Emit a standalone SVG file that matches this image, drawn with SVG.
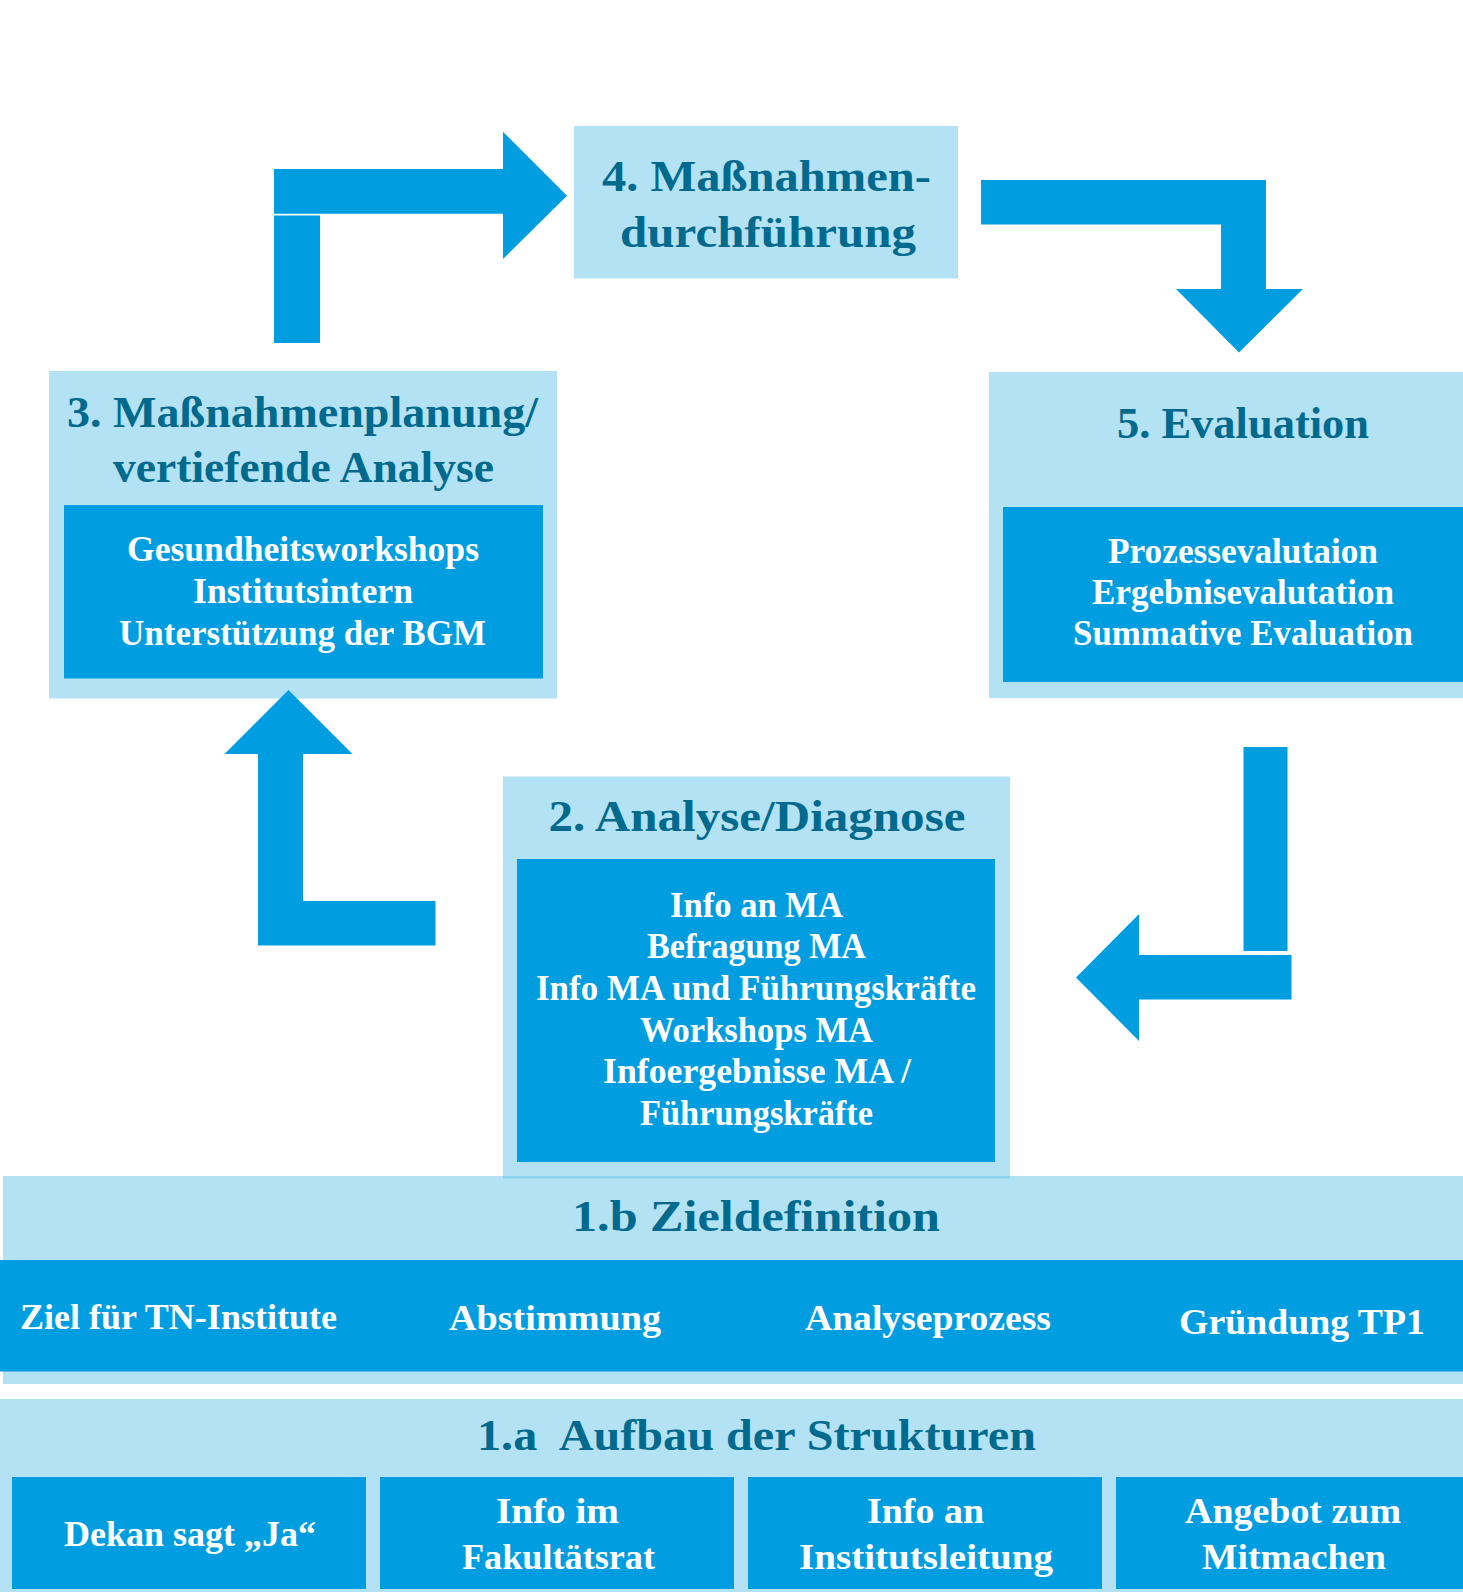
<svg xmlns="http://www.w3.org/2000/svg" width="1463" height="1592" viewBox="0 0 1463 1592">
<style>
.lt{fill:#B3E2F4}
.md{fill:#009EE0}
.ttl{font-family:"Liberation Serif","DejaVu Serif",serif;font-weight:bold;font-size:45px;fill:#006A8E;text-anchor:middle;white-space:pre}
.txt{font-family:"Liberation Serif","DejaVu Serif",serif;font-weight:bold;font-size:35px;fill:#FFFFFF;text-anchor:middle}
</style>
<rect width="1463" height="1592" fill="#FFFFFF"/>

<g id="node-4">
<rect class="lt" x="574" y="126" width="384" height="152.5"/>
<text class="ttl" x="766.5" y="190.5" textLength="329" lengthAdjust="spacingAndGlyphs">4. Maßnahmen-</text>
<text class="ttl" x="768" y="246.5" textLength="296" lengthAdjust="spacingAndGlyphs">durchführung</text>
</g>

<g id="node-3">
<rect class="lt" x="49" y="371" width="508" height="327.5"/>
<rect class="md" x="64" y="505" width="479" height="173.5"/>
<text class="ttl" x="302.5" y="427" textLength="471" lengthAdjust="spacingAndGlyphs">3. Maßnahmenplanung/</text>
<text class="ttl" x="303.5" y="481.5" textLength="381" lengthAdjust="spacingAndGlyphs">vertiefende Analyse</text>
<text class="txt" x="303" y="561" textLength="352" lengthAdjust="spacingAndGlyphs">Gesundheitsworkshops</text>
<text class="txt" x="303" y="603" textLength="220" lengthAdjust="spacingAndGlyphs">Institutsintern</text>
<text class="txt" x="302.5" y="644.5" textLength="367" lengthAdjust="spacingAndGlyphs">Unterstützung der BGM</text>
</g>

<g id="node-5">
<rect class="lt" x="989" y="372" width="474" height="326"/>
<rect class="md" x="1003" y="507" width="460" height="175"/>
<text class="ttl" x="1243" y="438" textLength="252" lengthAdjust="spacingAndGlyphs">5. Evaluation</text>
<text class="txt" x="1243" y="562.5" textLength="270" lengthAdjust="spacingAndGlyphs">Prozessevalutaion</text>
<text class="txt" x="1243" y="603.5" textLength="302" lengthAdjust="spacingAndGlyphs">Ergebnisevalutation</text>
<text class="txt" x="1243" y="644.5" textLength="340" lengthAdjust="spacingAndGlyphs">Summative Evaluation</text>
</g>

<g id="node-2">
<rect class="lt" x="503" y="776.5" width="507" height="401.5"/>
<rect class="md" x="517" y="859" width="478" height="303"/>
<text class="ttl" x="757" y="831" textLength="417" lengthAdjust="spacingAndGlyphs">2. Analyse/Diagnose</text>
<text class="txt" x="756.5" y="916.5" textLength="173" lengthAdjust="spacingAndGlyphs">Info an MA</text>
<text class="txt" x="756.5" y="958" textLength="219" lengthAdjust="spacingAndGlyphs">Befragung MA</text>
<text class="txt" x="756" y="1000" textLength="440" lengthAdjust="spacingAndGlyphs">Info MA und Führungskräfte</text>
<text class="txt" x="756.5" y="1041.5" textLength="233" lengthAdjust="spacingAndGlyphs">Workshops MA</text>
<text class="txt" x="757" y="1083" textLength="308" lengthAdjust="spacingAndGlyphs">Infoergebnisse MA /</text>
<text class="txt" x="756.5" y="1125" textLength="233" lengthAdjust="spacingAndGlyphs">Führungskräfte</text>
</g>

<g id="node-1b">
<rect class="lt" x="3" y="1176" width="1460" height="208"/>
<rect x="503" y="1176" width="507" height="2.5" fill="#8AD2F0"/>
<rect class="md" x="0" y="1260" width="1463" height="111.5"/>
<text class="ttl" x="756" y="1230.5" textLength="368" lengthAdjust="spacingAndGlyphs">1.b Zieldefinition</text>
<text class="txt" x="178.5" y="1329" textLength="317" lengthAdjust="spacingAndGlyphs">Ziel für TN-Institute</text>
<text class="txt" x="555" y="1330" textLength="212" lengthAdjust="spacingAndGlyphs">Abstimmung</text>
<text class="txt" x="928" y="1330" textLength="246" lengthAdjust="spacingAndGlyphs">Analyseprozess</text>
<text class="txt" x="1302" y="1334" textLength="246" lengthAdjust="spacingAndGlyphs">Gründung TP1</text>
</g>

<g id="node-1a">
<rect class="lt" x="0" y="1399" width="1463" height="193"/>
<text class="ttl" x="756.5" y="1449.5" textLength="559" lengthAdjust="spacingAndGlyphs">1.a  Aufbau der Strukturen</text>
<g id="node-1a-1">
<rect class="md" x="12" y="1477" width="354" height="112"/>
<text class="txt" x="190" y="1545.5" textLength="252" lengthAdjust="spacingAndGlyphs">Dekan sagt „Ja“</text>
</g>
<g id="node-1a-2">
<rect class="md" x="380" y="1477" width="354" height="112"/>
<text class="txt" x="557.5" y="1523.3" textLength="123" lengthAdjust="spacingAndGlyphs">Info im</text>
<text class="txt" x="558.5" y="1568.5" textLength="193" lengthAdjust="spacingAndGlyphs">Fakultätsrat</text>
</g>
<g id="node-1a-3">
<rect class="md" x="748" y="1477" width="354" height="112"/>
<text class="txt" x="925.5" y="1523.3" textLength="117" lengthAdjust="spacingAndGlyphs">Info an</text>
<text class="txt" x="926" y="1568.5" textLength="254" lengthAdjust="spacingAndGlyphs">Institutsleitung</text>
</g>
<g id="node-1a-4">
<rect class="md" x="1116" y="1477" width="347" height="112"/>
<text class="txt" x="1293" y="1523.3" textLength="216" lengthAdjust="spacingAndGlyphs">Angebot zum</text>
<text class="txt" x="1294" y="1568.5" textLength="184" lengthAdjust="spacingAndGlyphs">Mitmachen</text>
</g>
</g>

<g id="connectors">
<polygon class="md" points="274,169 503,169 503,131.7 567,195.7 503,259 503,213.7 274,213.7"/>
<rect class="md" x="274" y="215.5" width="46" height="127.5"/>
<polygon class="md" points="981,180 1266,180 1266,289 1303,289 1239,352.5 1176,289 1221,289 1221,224.5 981,224.5"/>
<rect class="md" x="1243.5" y="747" width="44" height="204"/>
<polygon class="md" points="1291.5,955 1139,955 1139,914 1076,977.5 1139,1041 1139,999.5 1291.5,999.5"/>
<polygon class="md" points="435.5,901 303,901 303,754 352.5,754 288.5,690 224.5,754 258,754 258,945.5 435.5,945.5"/>
</g>
</svg>
